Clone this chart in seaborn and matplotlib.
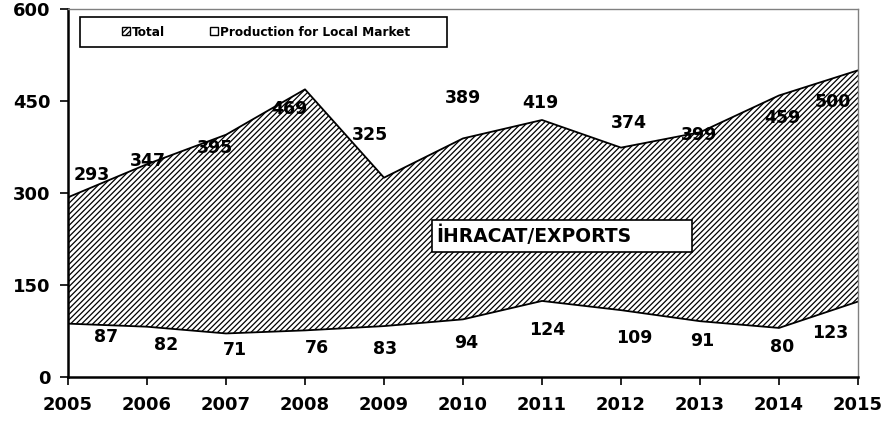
import matplotlib
matplotlib.use("Agg")
import matplotlib.pyplot as plt
import seaborn as sns
import pandas as pd
from matplotlib.patches import Patch, Rectangle

years = [2005, 2006, 2007, 2008, 2009, 2010, 2011, 2012, 2013, 2014, 2015]
total = [293, 347, 395, 469, 325, 389, 419, 374, 399, 459, 500]
local_market = [87, 82, 71, 76, 83, 94, 124, 109, 91, 80, 123]
y_ticks = [0, 150, 300, 450, 600]

# label offsets in pixels (dx, dy) relative to each data point
total_offsets = [(24, 22), (1, 3), (-11, -13), (-16, -20), (-14, 43), (0, 40),
                 (-2, 17), (8, 25), (-1, -3), (3, -23), (-25, -32)]
local_offsets = [(38, -13), (19, -18), (9, -17), (12, -18), (1, -23), (3, -24),
                 (5, -29), (13, -28), (2, -20), (3, -19), (-28, -31)]

sns.set_theme(style="white")
plt.rcParams['font.family'] = ['DejaVu Sans']
plt.rcParams['hatch.linewidth'] = 0.9
plt.rcParams['text.color'] = 'black'
plt.rcParams['xtick.color'] = 'black'
plt.rcParams['ytick.color'] = 'black'
plt.rcParams['xtick.labelcolor'] = 'black'
plt.rcParams['ytick.labelcolor'] = 'black'

df = pd.DataFrame({"year": years, "total": total, "local": local_market})

fig = plt.figure(figsize=(8.87, 4.24), dpi=100)
ax = fig.add_axes([68 / 887, 1 - 377 / 424, (858 - 68) / 887, (377 - 9) / 424])

ax.fill_between(df["year"], df["local"], df["total"], facecolor="white",
                edgecolor="black", hatch="//////", linewidth=0)
ax.fill_between(df["year"], 0, df["local"], facecolor="white", linewidth=0)
sns.lineplot(data=df, x="year", y="total", color="black", linewidth=1.3, ax=ax)
sns.lineplot(data=df, x="year", y="local", color="black", linewidth=1.3, ax=ax)

for x, v, (dx, dy) in zip(years, total, total_offsets):
    ax.annotate(str(v), (x, v), xytext=(dx, dy), textcoords="offset pixels",
                ha="center", va="center", fontsize=12.5, fontweight="bold", color="black")
for x, v, (dx, dy) in zip(years, local_market, local_offsets):
    ax.annotate(str(v), (x, v), xytext=(dx, dy), textcoords="offset pixels",
                ha="center", va="center", fontsize=12.5, fontweight="bold", color="black")

ax.set_xlim(years[0], years[-1])
ax.set_ylim(y_ticks[0], y_ticks[-1])
ax.set_xticks(years)
ax.set_xticklabels([str(y) for y in years], fontsize=13, fontweight="bold", color="black")
ax.set_yticks(y_ticks)
ax.set_yticklabels([str(t) for t in y_ticks], fontsize=13, fontweight="bold", color="black")
ax.set_xlabel("")
ax.set_ylabel("")
ax.tick_params(axis="both", which="both", direction="out", length=6, width=1.2,
               color="black", bottom=True, left=True)
ax.tick_params(axis="x", pad=8)
ax.tick_params(axis="y", pad=6.5)

ax.spines["left"].set_color("black")
ax.spines["left"].set_linewidth(1.8)
ax.spines["bottom"].set_color("black")
ax.spines["bottom"].set_linewidth(1.8)
ax.spines["top"].set_color("#808080")
ax.spines["top"].set_linewidth(1)
ax.spines["right"].set_color("#808080")
ax.spines["right"].set_linewidth(1)

# legend frame (drawn separately) and frameless legend
fig.patches.append(Rectangle((80 / 887, 1 - 47 / 424), 367 / 887, 30 / 424,
                             transform=fig.transFigure, facecolor="white",
                             edgecolor="black", linewidth=1.2, zorder=5))
handles = [Patch(facecolor="white", edgecolor="black", hatch="//////", label="Total"),
           Patch(facecolor="white", edgecolor="black", label="Production for Local Market")]
leg = fig.legend(handles=handles, ncol=2, loc="center",
                 bbox_to_anchor=(266 / 887, 1 - 32 / 424),
                 prop={"size": 8.7, "weight": "bold"}, handlelength=0.65, handleheight=0.65,
                 handletextpad=0.2, columnspacing=3.7, borderpad=0.2,
                 frameon=False, labelcolor="black")
leg.set_zorder(6)

# exports label box
fig.patches.append(Rectangle((432 / 887, 1 - 252 / 424), 260 / 887, 32 / 424,
                             transform=fig.transFigure, facecolor="white",
                             edgecolor="black", linewidth=1.2, zorder=5))
fig.text(436 / 887, 1 - 236 / 424, "İHRACAT/EXPORTS", ha="left", va="center",
         fontsize=13.5, fontweight="bold", color="black", zorder=6)

fig.savefig("out.png", dpi=100)
